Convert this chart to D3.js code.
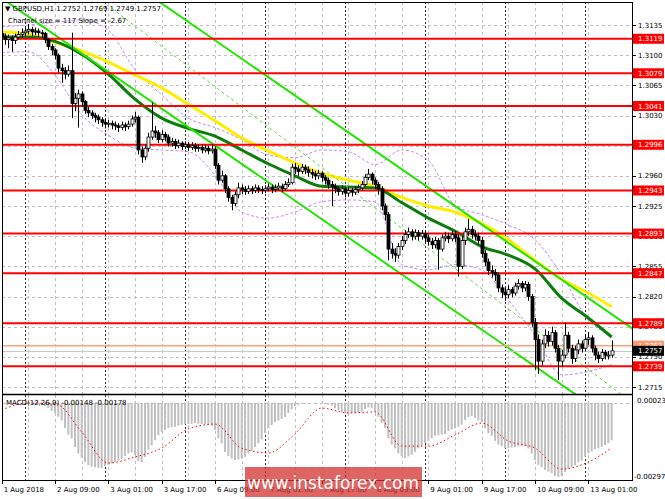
<!DOCTYPE html>
<html>
<head>
<meta charset="utf-8">
<script src="https://cdn.jsdelivr.net/npm/d3@7"></script>
<style>
body { margin: 0; background: #fff; }
text { font-family: "DejaVu Sans", sans-serif; }
</style>
</head>
<body>
<div id="chart"></div>
<script>
// ---- data (GBPUSD H1, 1 Aug 17:00 .. 13 Aug 08:00) ----
var firstOpen = 1.3125;
var closes = [
  1.3122, 1.3118, 1.3120, 1.3117, 1.3121, 1.3124, 1.3126,
  1.3128, 1.3130, 1.3127, 1.3128, 1.3126, 1.3125, 1.3118, 1.3110, 1.3106, 1.3100, 1.3085, 1.3082, 1.3078, 1.3082, 1.3044, 1.3050, 1.3055, 1.3046, 1.3036, 1.3033, 1.3030, 1.3028, 1.3025, 1.3022,
  1.3020, 1.3021, 1.3019, 1.3018, 1.3016, 1.3019, 1.3017, 1.3020, 1.3026, 1.3028, 1.2990, 1.2982, 1.2992, 1.3005, 1.3012, 1.3010, 1.3002, 1.3008, 1.3005, 1.2998, 1.3000, 1.2995, 1.2998, 1.2994,
  1.2996, 1.2993, 1.2995, 1.2992, 1.2993, 1.2990, 1.2992, 1.2989, 1.2991, 1.2972, 1.2955, 1.2960, 1.2945, 1.2935, 1.2928, 1.2938, 1.2946, 1.2944, 1.2942, 1.2945, 1.2943, 1.2946, 1.2944, 1.2943,
  1.2945, 1.2947, 1.2944, 1.2946, 1.2948, 1.2945, 1.2950, 1.2952, 1.2970, 1.2968, 1.2965, 1.2970, 1.2967, 1.2964, 1.2962, 1.2960, 1.2963, 1.2958, 1.2955, 1.2950, 1.2948, 1.2945, 1.2942, 1.2945,
  1.2940, 1.2943, 1.2941, 1.2944, 1.2946, 1.2950, 1.2958, 1.2962, 1.2955, 1.2950, 1.2945, 1.2925, 1.2915, 1.2875, 1.2870, 1.2868, 1.2878, 1.2885, 1.2892, 1.2895, 1.2890, 1.2894, 1.2890, 1.2893,
  1.2888, 1.2884, 1.2880, 1.2885, 1.2875, 1.2888, 1.2890, 1.2887, 1.2892, 1.2888, 1.2855, 1.2885, 1.2895, 1.2898, 1.2892, 1.2890, 1.2885, 1.2870, 1.2860, 1.2850, 1.2848, 1.2845, 1.2830, 1.2825,
  1.2822, 1.2828, 1.2824, 1.2832, 1.2835, 1.2830, 1.2834, 1.2820, 1.2790, 1.2770, 1.2745, 1.2765, 1.2775, 1.2768, 1.2778, 1.2760, 1.2745, 1.2752, 1.2775, 1.2760, 1.2748, 1.2758, 1.2765, 1.2760,
  1.2770, 1.2772, 1.2760, 1.2752, 1.2748, 1.2755, 1.2752, 1.2752, 1.2757
];
var highs = [
  1.3128, 1.3125, 1.3124, 1.3123, 1.3125, 1.3128, 1.3131,
  1.3134, 1.3136, 1.3133, 1.3132, 1.3131, 1.3129, 1.3127, 1.3120, 1.3113, 1.3108, 1.3102, 1.3090, 1.3086, 1.3088, 1.3126, 1.3056, 1.3060, 1.3058, 1.3048, 1.3040, 1.3036, 1.3033, 1.3031, 1.3028,
  1.3026, 1.3025, 1.3024, 1.3023, 1.3021, 1.3023, 1.3022, 1.3024, 1.3030, 1.3034, 1.3030, 1.2994, 1.2996, 1.3010, 1.3045, 1.3018, 1.3013, 1.3013, 1.3011, 1.3008, 1.3004, 1.3003, 1.3002, 1.3000,
  1.3000, 1.2999, 1.2999, 1.2998, 1.2997, 1.2996, 1.2996, 1.2995, 1.2997, 1.2994, 1.2975, 1.2966, 1.2962, 1.2948, 1.2938, 1.2942, 1.2952, 1.2950, 1.2948, 1.2949, 1.2948, 1.2950, 1.2949, 1.2948,
  1.2949, 1.2951, 1.2950, 1.2950, 1.2952, 1.2951, 1.2954, 1.2957, 1.2974, 1.2975, 1.2972, 1.2974, 1.2973, 1.2971, 1.2968, 1.2966, 1.2967, 1.2965, 1.2961, 1.2958, 1.2954, 1.2951, 1.2948, 1.2949,
  1.2947, 1.2947, 1.2946, 1.2948, 1.2950, 1.2954, 1.2962, 1.2968, 1.2964, 1.2958, 1.2953, 1.2948, 1.2928, 1.2918, 1.2882, 1.2876, 1.2882, 1.2890, 1.2897, 1.2900, 1.2898, 1.2898, 1.2897, 1.2897,
  1.2896, 1.2892, 1.2888, 1.2889, 1.2888, 1.2892, 1.2895, 1.2894, 1.2896, 1.2896, 1.2892, 1.2890, 1.2900, 1.2910, 1.2902, 1.2897, 1.2894, 1.2889, 1.2874, 1.2864, 1.2856, 1.2852, 1.2848, 1.2834,
  1.2830, 1.2833, 1.2831, 1.2836, 1.2840, 1.2838, 1.2838, 1.2837, 1.2823, 1.2795, 1.2776, 1.2770, 1.2782, 1.2780, 1.2785, 1.2781, 1.2764, 1.2758, 1.2790, 1.2779, 1.2764, 1.2763, 1.2770, 1.2769,
  1.2776, 1.2779, 1.2775, 1.2763, 1.2756, 1.2759, 1.2758, 1.2757, 1.2769
];
var lows = [
  1.3114, 1.3112, 1.3108, 1.3104, 1.3113, 1.3118, 1.3120,
  1.3122, 1.3124, 1.3122, 1.3123, 1.3121, 1.3120, 1.3114, 1.3106, 1.3100, 1.3095, 1.3080, 1.3068, 1.3072, 1.3075, 1.3027, 1.3035, 1.3016, 1.3040, 1.3032, 1.3028, 1.3026, 1.3022, 1.3020, 1.3017,
  1.3015, 1.3016, 1.3014, 1.3013, 1.3011, 1.3013, 1.3012, 1.3014, 1.3017, 1.3022, 1.2985, 1.2975, 1.2978, 1.2988, 1.3002, 1.3004, 1.2998, 1.2999, 1.3000, 1.2994, 1.2994, 1.2991, 1.2992, 1.2990,
  1.2991, 1.2989, 1.2990, 1.2988, 1.2988, 1.2986, 1.2987, 1.2985, 1.2986, 1.2968, 1.2950, 1.2952, 1.2940, 1.2930, 1.2920, 1.2925, 1.2934, 1.2939, 1.2938, 1.2939, 1.2939, 1.2940, 1.2940, 1.2939,
  1.2940, 1.2942, 1.2940, 1.2941, 1.2943, 1.2941, 1.2943, 1.2947, 1.2950, 1.2962, 1.2960, 1.2962, 1.2962, 1.2959, 1.2957, 1.2955, 1.2956, 1.2953, 1.2950, 1.2945, 1.2925, 1.2940, 1.2937, 1.2938,
  1.2935, 1.2936, 1.2936, 1.2938, 1.2940, 1.2943, 1.2948, 1.2955, 1.2950, 1.2945, 1.2938, 1.2920, 1.2908, 1.2862, 1.2864, 1.2860, 1.2864, 1.2874, 1.2881, 1.2888, 1.2885, 1.2886, 1.2885, 1.2886,
  1.2883, 1.2879, 1.2875, 1.2876, 1.2851, 1.2872, 1.2884, 1.2882, 1.2884, 1.2883, 1.2843, 1.2852, 1.2880, 1.2890, 1.2887, 1.2885, 1.2880, 1.2865, 1.2855, 1.2845, 1.2842, 1.2838, 1.2825, 1.2818,
  1.2815, 1.2818, 1.2819, 1.2821, 1.2828, 1.2825, 1.2826, 1.2815, 1.2785, 1.2735, 1.2730, 1.2740, 1.2760, 1.2762, 1.2763, 1.2755, 1.2723, 1.2738, 1.2748, 1.2755, 1.2742, 1.2744, 1.2753, 1.2755,
  1.2756, 1.2764, 1.2755, 1.2746, 1.2743, 1.2745, 1.2747, 1.2747, 1.2749
];

// indicator lines, sampled every 8 bars (bar index)
var sampleBars = [0, 8, 16, 24, 32, 40, 48, 56, 64, 72, 80, 88, 96, 104, 112, 120, 128, 136, 144, 152, 160, 168, 176, 183];
var maSlow = [1.3127, 1.3125, 1.3115, 1.3105, 1.3092, 1.3077, 1.3062, 1.3043, 1.3024, 1.3004, 1.2989, 1.2975, 1.2963, 1.2955, 1.2948, 1.2935, 1.2925, 1.2918, 1.2905, 1.2886, 1.2862, 1.2840, 1.2824, 1.2808];
var maFast = [1.3121, 1.3121, 1.3116, 1.3101, 1.3078, 1.3049, 1.3027, 1.3015, 1.3006, 1.2990, 1.2974, 1.2960, 1.2948, 1.2947, 1.2946, 1.2929, 1.2911, 1.2896, 1.2878, 1.2868, 1.2852, 1.2818, 1.2795, 1.2773];
var bandUpper = [1.3133, 1.3135, 1.3138, 1.3141, 1.3129, 1.3083, 1.3054, 1.3027, 1.3016, 1.3002, 1.2984, 1.2981, 1.2990, 1.2988, 1.2973, 1.2990, 1.2978, 1.2926, 1.2915, 1.2903, 1.2886, 1.2845, 1.2793, 1.2775];
var bandLower = [1.3103, 1.3104, 1.3077, 1.3031, 1.3007, 1.2992, 1.2990, 1.2988, 1.2961, 1.2918, 1.2911, 1.2918, 1.2930, 1.2932, 1.2930, 1.2857, 1.2851, 1.2857, 1.2851, 1.2816, 1.2775, 1.2729, 1.2733, 1.2741];

// MACD (12,26,9) in units of 0.00001
var macdMain = [
  -3, -3, -4, -4, -5, -4, -3,
  -3, -2, -2, -3, -4, -6, -13, -20, -32, -40, -55, -70, -100, -125, -140, -175, -200, -216, -234, -246, -252, -254, -257, -258,
  -250, -244, -240, -234, -228, -222, -210, -200, -196, -206, -230, -234, -214, -185, -168, -147, -128, -115, -107, -100, -96, -95, -90, -87,
  -84, -84, -83, -80, -82, -84, -84, -86, -90, -107, -140, -160, -194, -210, -220, -226, -224, -220, -214, -200, -190, -175, -160, -145,
  -120, -100, -88, -76, -70, -64, -56, -40, -26, -13, -8, -5, -5, -2, -1, -1, -1, -2, -5, -8, -12, -21, -30, -36,
  -40, -40, -40, -40, -38, -35, -24, -18, -20, -36, -55, -80, -100, -140, -165, -180, -200, -210, -218, -212, -205, -194, -180, -170,
  -159, -150, -140, -130, -128, -125, -123, -112, -105, -100, -95, -86, -68, -56, -52, -60, -70, -76, -100, -120, -130, -150, -165, -171,
  -179, -179, -177, -175, -172, -171, -171, -180, -200, -226, -245, -254, -265, -272, -277, -289, -293, -290, -273, -262, -255, -246, -235, -228,
  -212, -200, -192, -183, -180, -174, -167, -160, -148
];
var macdSignal = [-28, -1, -3, -115, -238, -214, -179, -103, -84, -179, -198, -123, -21, -40, -36, -171, -171, -127, -80, -151, -179, -262, -234, -178];

// channel: lower line at bar 0, slope per bar, width
var channelStart = 1.31661;
var channelSlope = -0.000267;
var channelWidth = 0.0122;
var dashStart = 1.3251;
var dashSlope = -0.000293;

var levels = [1.3119, 1.3079, 1.3041, 1.2996, 1.2943, 1.2893, 1.2847, 1.2789, 1.2739];
var priceTicks = [1.3135, 1.3100, 1.3065, 1.3030, 1.2995, 1.2960, 1.2925, 1.2890, 1.2855, 1.2820, 1.2785, 1.2750, 1.2715];
var timeBars = [0, 16, 32, 48, 64, 80, 96, 112, 128, 144, 160, 176];
var timeLabels = ["1 Aug 2018", "2 Aug 09:00", "3 Aug 01:00", "3 Aug 17:00", "6 Aug 09:00", "7 Aug 01:00",
                  "7 Aug 17:00", "8 Aug 09:00", "9 Aug 01:00", "9 Aug 17:00", "10 Aug 09:00", "13 Aug 01:00"];
var dayStarts = [7, 31, 55, 79, 103, 127, 151, 175];
var gridBars = d3.range(0, 184, 8);
var lastPrice = 1.2757;
var askLine = 1.2763;

// ---- drawing ----
var w = 665, h = 499;
var left = 2, right = 632, mainTop = 2, mainBottom = 394, macdTop = 395, macdBottom = 480;

var svg = d3.select('#chart').append('svg')
    .attr('width', w)
    .attr('height', h);

var x = d3.scaleLinear().domain([0, 183]).range([1.67, 611.67]);
var y = d3.scaleLinear().domain([1.3135, 1.2715]).range([25, 387]);
var ym = d3.scaleLinear().domain([23, -297]).range([397, 478]);

var defs = svg.append('defs');
defs.append('clipPath').attr('id', 'clipMain').append('rect')
    .attr('x', left).attr('y', mainTop).attr('width', right - left).attr('height', mainBottom - mainTop);
defs.append('clipPath').attr('id', 'clipMacd').append('rect')
    .attr('x', left).attr('y', macdTop).attr('width', right - left).attr('height', macdBottom - macdTop);

var main = svg.append('g').attr('clip-path', 'url(#clipMain)');
var macd = svg.append('g').attr('clip-path', 'url(#clipMacd)');

// grid
[main, macd].forEach(function(g, gi) {
    g.selectAll('line.vgrid')
        .data(gridBars)
        .enter()
        .append('line')
        .attr('x1', function(d) { return Math.round(x(d)) + 0.5; })
        .attr('x2', function(d) { return Math.round(x(d)) + 0.5; })
        .attr('y1', gi === 0 ? mainTop : macdTop)
        .attr('y2', gi === 0 ? mainBottom : macdBottom)
        .attr('stroke', '#c0c0c0')
        .attr('stroke-dasharray', '3,3');
    g.selectAll('line.sep')
        .data(dayStarts)
        .enter()
        .append('line')
        .attr('x1', function(d) { return Math.round(x(d)) + 0.5; })
        .attr('x2', function(d) { return Math.round(x(d)) + 0.5; })
        .attr('y1', gi === 0 ? mainTop : macdTop)
        .attr('y2', gi === 0 ? mainBottom : macdBottom)
        .attr('stroke', '#303030')
        .attr('stroke-dasharray', '2,2');
});
main.selectAll('line.hgrid')
    .data(priceTicks)
    .enter()
    .append('line')
    .attr('x1', left).attr('x2', right)
    .attr('y1', function(d) { return Math.round(y(d)) + 0.5; })
    .attr('y2', function(d) { return Math.round(y(d)) + 0.5; })
    .attr('stroke', '#c0c0c0')
    .attr('stroke-dasharray', '3,3');
macd.append('line')
    .attr('x1', left).attr('x2', right)
    .attr('y1', Math.round(ym(0)) + 0.5).attr('y2', Math.round(ym(0)) + 0.5)
    .attr('stroke', '#c0c0c0')
    .attr('stroke-dasharray', '3,3');

// bands (purple dashed)
var bandLine = d3.line()
    .x(function(d, i) { return x(sampleBars[i]); })
    .y(function(d) { return y(d); })
    .curve(d3.curveMonotoneX);
[bandUpper, bandLower].forEach(function(b) {
    main.append('path')
        .attr('d', bandLine(b))
        .attr('fill', 'none')
        .attr('stroke', '#c58cf0')
        .attr('stroke-width', 1)
        .attr('stroke-dasharray', '3,2');
});

// moving averages
main.append('path')
    .attr('d', bandLine(maSlow))
    .attr('fill', 'none')
    .attr('stroke', '#ffee00')
    .attr('stroke-width', 3);
main.append('path')
    .attr('d', bandLine(maFast))
    .attr('fill', 'none')
    .attr('stroke', '#0b7d0b')
    .attr('stroke-width', 3);

// channel
var chBars = [0, 195];
[0, channelWidth].forEach(function(off) {
    main.append('line')
        .attr('x1', x(chBars[0])).attr('y1', y(channelStart + off + channelSlope * chBars[0]))
        .attr('x2', x(chBars[1])).attr('y2', y(channelStart + off + channelSlope * chBars[1]))
        .attr('stroke', '#22e600')
        .attr('stroke-width', 2);
});
main.append('line')
    .attr('x1', x(chBars[0])).attr('y1', y(dashStart + dashSlope * chBars[0]))
    .attr('x2', x(chBars[1])).attr('y2', y(dashStart + dashSlope * chBars[1]))
    .attr('stroke', '#55e033')
    .attr('stroke-width', 1)
    .attr('stroke-dasharray', '3,3');

// levels
main.selectAll('line.level')
    .data(levels)
    .enter()
    .append('line')
    .attr('x1', left).attr('x2', right)
    .attr('y1', function(d) { return y(d); })
    .attr('y2', function(d) { return y(d); })
    .attr('stroke', '#ff0000')
    .attr('stroke-width', 2);
main.append('line')
    .attr('x1', left).attr('x2', right)
    .attr('y1', y(askLine)).attr('y2', y(askLine))
    .attr('stroke', '#ffa07a')
    .attr('stroke-width', 1.5);
main.append('line')
    .attr('x1', left).attr('x2', right)
    .attr('y1', Math.round(y(lastPrice)) + 0.5).attr('y2', Math.round(y(lastPrice)) + 0.5)
    .attr('stroke', '#c8c8c8')
    .attr('stroke-width', 1);

// candles
var candles = closes.map(function(c, i) {
    return { k: i, o: i === 0 ? firstOpen : closes[i - 1], c: c, h: highs[i], l: lows[i] };
});
main.selectAll('line.wick')
    .data(candles)
    .enter()
    .append('line')
    .attr('x1', function(d) { return Math.round(x(d.k)) + 0.5; })
    .attr('x2', function(d) { return Math.round(x(d.k)) + 0.5; })
    .attr('y1', function(d) { return y(d.h); })
    .attr('y2', function(d) { return y(d.l); })
    .attr('stroke', '#000');
main.selectAll('rect.body')
    .data(candles)
    .enter()
    .append('rect')
    .attr('x', function(d) { return Math.round(x(d.k)) - 1; })
    .attr('width', 3)
    .attr('y', function(d) { return y(Math.max(d.o, d.c)); })
    .attr('height', function(d) { return Math.max(1, Math.abs(y(d.o) - y(d.c))); })
    .attr('fill', function(d) { return d.c >= d.o ? '#fff' : '#000'; })
    .attr('stroke', '#000')
    .attr('stroke-width', 0.8);

// macd histogram + signal
macd.selectAll('rect.hist')
    .data(macdMain)
    .enter()
    .append('rect')
    .attr('x', function(d, i) { return x(i) - 1; })
    .attr('width', 2)
    .attr('y', function(d) { return Math.min(ym(0), ym(d)); })
    .attr('height', function(d) { return Math.abs(ym(d) - ym(0)); })
    .attr('fill', '#c0c0c0');
macd.append('path')
    .attr('d', d3.line()
        .x(function(d, i) { return x(sampleBars[i]); })
        .y(function(d) { return ym(d); })
        .curve(d3.curveMonotoneX)(macdSignal))
    .attr('fill', 'none')
    .attr('stroke', '#ff0000')
    .attr('stroke-width', 1)
    .attr('stroke-dasharray', '1.5,2.5');

// frames
svg.append('rect')
    .attr('x', left + 0.5).attr('y', mainTop + 0.5)
    .attr('width', right - left).attr('height', macdBottom - mainTop)
    .attr('fill', 'none').attr('stroke', '#000');
svg.append('line')
    .attr('x1', left).attr('x2', right)
    .attr('y1', mainBottom + 0.5).attr('y2', mainBottom + 0.5)
    .attr('stroke', '#000').attr('stroke-width', 1.5);

// price axis
var axis = svg.append('g');
axis.selectAll('line.tick')
    .data(priceTicks)
    .enter()
    .append('line')
    .attr('x1', right).attr('x2', right + 4)
    .attr('y1', function(d) { return Math.round(y(d)) + 0.5; })
    .attr('y2', function(d) { return Math.round(y(d)) + 0.5; })
    .attr('stroke', '#000');
axis.selectAll('text.tick')
    .data(priceTicks)
    .enter()
    .append('text')
    .attr('x', right + 6)
    .attr('y', function(d) { return y(d) + 2.6; })
    .attr('font-size', '7px')
    .attr('fill', '#000')
    .text(function(d) { return d.toFixed(4); });

function tag(price, bg) {
    var g = axis.append('g');
    g.append('rect')
        .attr('x', right + 1).attr('y', y(price) - 5)
        .attr('width', 31).attr('height', 10)
        .attr('fill', bg);
    g.append('text')
        .attr('x', right + 6).attr('y', y(price) + 2.6)
        .attr('font-size', '7px')
        .attr('fill', '#fff')
        .text(price.toFixed(4));
}
levels.forEach(function(p) { tag(p, '#ff0000'); });
tag(askLine, '#ff9a70');
tag(lastPrice, '#000');

// macd axis
svg.append('text').attr('x', right + 5).attr('y', ym(23) + 6).attr('font-size', '7px').text('0.00023');
svg.append('text').attr('x', right + 2).attr('y', ym(-297) + 1).attr('font-size', '7px').text('-0.00297');

// time axis
svg.selectAll('line.ttick')
    .data(timeBars)
    .enter()
    .append('line')
    .attr('x1', function(d) { return Math.round(x(d)) + 0.5; })
    .attr('x2', function(d) { return Math.round(x(d)) + 0.5; })
    .attr('y1', macdBottom).attr('y2', macdBottom + 4)
    .attr('stroke', '#000');
svg.selectAll('text.tlabel')
    .data(timeBars)
    .enter()
    .append('text')
    .attr('x', function(d) { return x(d) + 2; })
    .attr('y', 492)
    .attr('font-size', '7px')
    .text(function(d, i) { return timeLabels[i]; });

// titles
svg.append('text').attr('x', 5).attr('y', 11).attr('font-size', '7px')
    .text('\u25BC  GBPUSD,H1  1.2752 1.2769 1.2749 1.2757');
svg.append('text').attr('x', 8).attr('y', 23).attr('font-size', '7px')
    .text('Channel size = 117 Slope = -2.67');
svg.append('text').attr('x', 6).attr('y', 405).attr('font-size', '7px')
    .text('MACD(12,26,9) -0.00148 -0.00178');

// watermark (covers part of the time labels, as in the source)
svg.append('rect')
    .attr('x', 245).attr('y', 467).attr('width', 177).attr('height', 30)
    .attr('fill', '#d43030').attr('opacity', 0.75);
svg.append('text')
    .attr('x', 333).attr('y', 489)
    .attr('text-anchor', 'middle')
    .attr('font-family', '"Liberation Sans", sans-serif')
    .attr('font-size', '17px')
    .attr('fill', '#fff')
    .text('www.instaforex.com');
</script>
</body>
</html>
